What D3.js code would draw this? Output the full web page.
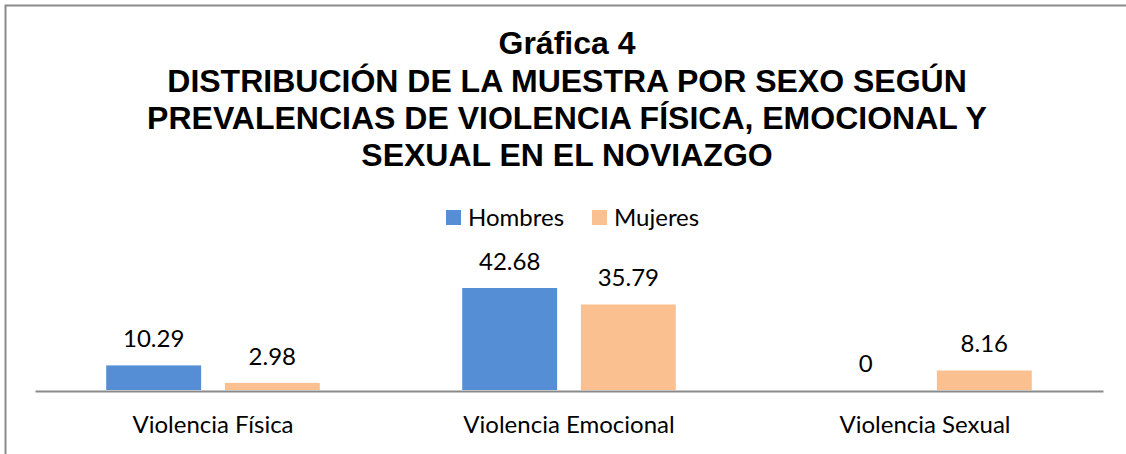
<!DOCTYPE html>
<html>
<head>
<meta charset="utf-8">
<script src="https://cdn.jsdelivr.net/npm/d3@7"></script>
<style>
  body { margin: 0; background: #fff; }
  .title { font-family: "Liberation Sans", Arial, sans-serif; font-weight: bold; font-size: 32px; fill: #000; }
  .lbl { font-family: Lato, "Open Sans", sans-serif; font-size: 24px; fill: #000; }
</style>
</head>
<body>
<div id="canvas"></div>
<script>
// categories and series
const categories = ["Violencia Física", "Violencia Emocional", "Violencia Sexual"];
const series = ["Hombres", "Mujeres"];
const hombres = [10.29, 42.68, 0];
const mujeres = [2.98, 35.79, 8.16];
const titleLines = ["Gráfica 4", "DISTRIBUCIÓN DE LA MUESTRA POR SEXO SEGÚN", "PREVALENCIAS DE VIOLENCIA FÍSICA, EMOCIONAL Y", "SEXUAL EN EL NOVIAZGO"];

const colors = {"Hombres": "#558ed5", "Mujeres": "#fac090"};
const width = 1126, height = 454;

let chartData = [];
categories.forEach((c, i) => {
    chartData.push({cat: c, key: "Hombres", value: hombres[i]});
    chartData.push({cat: c, key: "Mujeres", value: mujeres[i]});
});

let svg = d3.select("#canvas").append("svg").attr("width", width).attr("height", height);
svg.append("rect").attr("width", width).attr("height", height).attr("fill", "#ffffff");
// chart border (right / bottom fall outside the picture)
svg.append("rect")
    .attr("x", 5.5).attr("y", 5.5)
    .attr("width", 1130).attr("height", 460)
    .attr("fill", "none").attr("stroke", "#8a8a8a").attr("stroke-width", 2);

// title
let titleY = [54, 92, 129, 166];
svg.append("g").selectAll("text")
    .data(titleLines)
    .enter().append("text")
    .attr("class", "title")
    .attr("text-anchor", "middle")
    .attr("x", 567)
    .attr("y", (d, i) => titleY[i])
    .text(d => d);

// legend
let legendX = [446, 592];
let legend = svg.append("g").selectAll("g")
    .data(series)
    .enter().append("g")
    .attr("transform", (d, i) => "translate(" + legendX[i] + ",210)");
legend.append("rect").attr("width", 15).attr("height", 15).attr("fill", d => colors[d]);
legend.append("text").attr("class", "lbl").attr("x", 22).attr("y", 15.5).text(d => d);

// scales
var x0 = d3.scaleBand()
    .domain(categories)
    .range([35, 1103]);
var x1 = d3.scaleBand()
    .domain(series)
    .range([0, x0.bandwidth()])
    .paddingInner(0.2)
    .paddingOuter(0.6);
var y = d3.scaleLinear()
    .domain([0, 50])
    .range([390, 270.5]);

// bars
svg.append("g").selectAll("rect")
    .data(chartData)
    .enter().append("rect")
    .attr("x", d => x0(d.cat) + x1(d.key))
    .attr("width", x1.bandwidth())
    .attr("y", d => y(d.value))
    .attr("height", d => y(0) - y(d.value))
    .attr("fill", d => colors[d.key]);

// value labels
svg.append("g").selectAll("text")
    .data(chartData)
    .enter().append("text")
    .attr("class", "lbl")
    .attr("text-anchor", "middle")
    .attr("x", d => x0(d.cat) + x1(d.key) + x1.bandwidth() / 2)
    .attr("y", d => y(d.value) - 18)
    .text(d => d.value);

// x axis
let xAxis = svg.append("g")
    .attr("transform", "translate(0,391)")
    .call(d3.axisBottom(x0).tickSize(0).tickPadding(0));
xAxis.select(".domain").attr("stroke", "#8a8a8a").attr("stroke-width", 2);
xAxis.selectAll(".tick text")
    .attr("class", "lbl")
    .attr("font-size", null).attr("font-family", null)
    .attr("dy", null)
    .attr("y", 42);
</script>
</body>
</html>
